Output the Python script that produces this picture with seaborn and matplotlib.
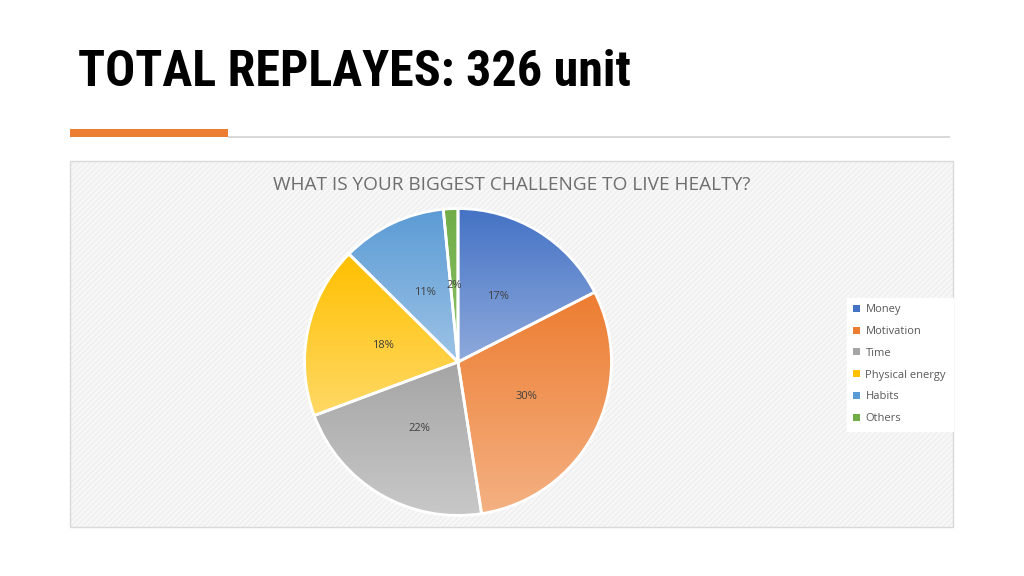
import matplotlib
matplotlib.use("Agg")
import matplotlib.pyplot as plt
import matplotlib.colors as mcolors
from matplotlib.patches import Rectangle
import seaborn as sns
import numpy as np

categories = ["Money", "Motivation", "Time", "Physical energy", "Habits", "Others"]
replies = [57, 98, 71, 59, 36, 5]
top_colors = ["#4472C4", "#ED7D31", "#A5A5A5", "#FFC000", "#5B9BD5", "#70AD47"]
bottom_colors = ["#8FAADC", "#F4B183", "#C9C9C9", "#FFD966", "#9DC3E6", "#8CC168"]
page_title = "TOTAL REPLAYES: 326 unit"
chart_title = "WHAT IS YOUR BIGGEST CHALLENGE TO LIVE HEALTY?"

sns.set_theme(style="white")
plt.rcParams["font.family"] = ["Open Sans", "DejaVu Sans"]
plt.rcParams["hatch.linewidth"] = 0.6

fig = plt.figure(figsize=(10.24, 5.76), dpi=100)
fig.patch.set_facecolor("white")

# page header
fig.text(78 / 1024, 1 - 73 / 576, page_title, fontsize=36, fontweight="bold",
         family=["Roboto Condensed", "Liberation Sans Narrow", "Roboto"],
         color="black", va="center", ha="left")
fig.add_artist(Rectangle((228 / 1024, 1 - 138 / 576), 722 / 1024, 2 / 576,
                         transform=fig.transFigure, facecolor="#D9D9D9",
                         edgecolor="none", zorder=-5))
fig.add_artist(Rectangle((70 / 1024, 1 - 137 / 576), 158 / 1024, 8 / 576,
                         transform=fig.transFigure, facecolor="#ED7D31",
                         edgecolor="none", zorder=-4))

# chart area with textured background
x0, y0, x1, y1 = 70, 161, 953, 527
fig.add_artist(Rectangle((x0 / 1024, 1 - y1 / 576), (x1 - x0) / 1024, (y1 - y0) / 576,
                         transform=fig.transFigure, facecolor="#F1F1F1",
                         edgecolor="#FFFFFF", hatch="//////", linewidth=0, zorder=-5))
fig.add_artist(Rectangle((x0 / 1024, 1 - y1 / 576), (x1 - x0) / 1024, (y1 - y0) / 576,
                         transform=fig.transFigure, facecolor="none",
                         edgecolor="#D9D9D9", linewidth=1, zorder=-4))
fig.text(512 / 1024, 1 - 185 / 576, chart_title, fontsize=13.7, color="#6E6E6E",
         ha="center", va="center")

# pie
cx, cy, r = 458, 362, 155
ax = fig.add_axes([(cx - r) / 1024, 1 - (cy + r) / 576, 2 * r / 1024, 2 * r / 576])
ax.patch.set_alpha(0)
wedges, texts, autotexts = ax.pie(
    replies, startangle=90, counterclock=False, colors=top_colors,
    autopct="%1.0f%%", pctdistance=0.5,
    wedgeprops=dict(edgecolor="white", linewidth=2),
    textprops=dict(fontsize=8, color="#404040"))

# vertical gradient inside each wedge
for w, ct, cb in zip(wedges, top_colors, bottom_colors):
    cmap = mcolors.LinearSegmentedColormap.from_list("g", [cb, ct])
    verts = w.get_path().vertices
    ymin, ymax = verts[:, 1].min(), verts[:, 1].max()
    xmin, xmax = verts[:, 0].min(), verts[:, 0].max()
    grad = np.linspace(0, 1, 256).reshape(-1, 1)
    im = ax.imshow(grad, cmap=cmap, origin="lower", aspect="auto",
                   extent=[xmin, xmax, ymin, ymax], zorder=1.1)
    im.set_clip_path(w)
    w.set_facecolor("none")
    w.set_zorder(1.2)
for t in autotexts:
    t.set_zorder(5)
ax.set_xlim(-1.01, 1.01)
ax.set_ylim(-1.01, 1.01)
ax.set_aspect("equal")
ax.axis("off")

# legend
handles = [Rectangle((0, 0), 1, 1, facecolor=c, edgecolor="none") for c in top_colors]
leg = fig.legend(handles, categories, loc="upper left",
                 bbox_to_anchor=(841 / 1024, 1 - 292 / 576), frameon=True,
                 fontsize=8, handlelength=0.6, handleheight=0.6, handletextpad=0.5,
                 labelspacing=0.97, borderpad=0.6, fancybox=False, framealpha=1)
leg.get_frame().set_facecolor("white")
leg.get_frame().set_edgecolor("white")
for t in leg.get_texts():
    t.set_color("#595959")

fig.savefig("out.png", dpi=100)
